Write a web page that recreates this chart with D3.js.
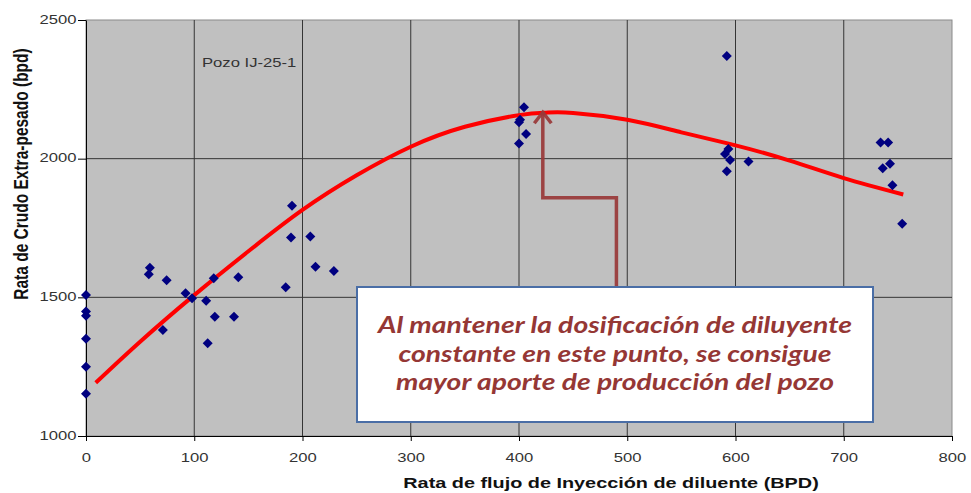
<!DOCTYPE html>
<html>
<head>
<meta charset="utf-8">
<script src="https://cdn.jsdelivr.net/npm/d3@7"></script>
<style>
  body { margin: 0; background: #fff; }
  svg { display: block; font-family: Arial, "Liberation Sans", sans-serif; }
</style>
</head>
<body>
<svg id="chart" width="971" height="493"></svg>
<script>
// values
var xTicks = [0, 100, 200, 300, 400, 500, 600, 700, 800];
var yTicks = [1000, 1500, 2000, 2500];

var inyeccion = [0, 0, 0, 0, 0, 0, 58, 59, 74.5, 71, 92, 98, 111, 112.4, 119, 118, 136.7, 140.7,
  184.5, 212, 190.3, 189.4, 207.2, 229, 404.6, 401, 400, 406.5, 400,
  592, 593.4, 590.3, 595, 592, 612, 734, 741, 742.7, 736, 745, 754];
var crudo = [1508, 1449, 1434, 1351, 1250, 1152, 1583, 1607, 1562, 1382, 1515, 1497, 1488, 1334, 1430, 1569, 1430, 1572,
  1536, 1610, 1830, 1716, 1719, 1595, 2185, 2140, 2131, 2089, 2055,
  2370, 2035, 2017, 1995, 1955, 1990, 2058, 2058, 1982, 1965, 1904, 1765];

// trend line (polynomial fit in the original)
var trendX = [9, 50, 100, 150, 200, 250, 300, 350, 400, 425, 450, 500, 550, 600, 650, 700, 755];
var trendY = [1192, 1340, 1508, 1666, 1815, 1940, 2043, 2115, 2157, 2166, 2165, 2140, 2095, 2048, 1993, 1930, 1871];

var pozoLabel = "Pozo IJ-25-1";
var noteLines = [
  "Al mantener la dosificación de diluyente",
  "constante en este punto, se consigue",
  "mayor aporte de producción del pozo"
];
// annotation arrow, in data units
var arrowX = [422, 422, 490, 490];
var arrowY = [2169, 1859, 1859, 1537];

var margin = {top: 20, left: 86},
    width = 866, height = 416;
var stretch = 1.28; // the original chart text is widened

var svg = d3.select('#chart');
var g = svg.append('g').attr('transform', 'translate(' + margin.left + ',' + margin.top + ')');

var x = d3.scaleLinear().domain([0, 800]).range([0, width]);
var y = d3.scaleLinear().domain([1000, 2500]).range([height, 0]);

// plot area
g.append('rect')
  .attr('width', width).attr('height', height)
  .attr('fill', '#c0c0c0')
  .attr('stroke', '#8a8a8a');

// grid
g.selectAll('.vgrid').data(xTicks.slice(1, -1)).enter().append('line')
  .attr('x1', d => x(d)).attr('x2', d => x(d))
  .attr('y1', 0).attr('y2', height)
  .attr('stroke', '#353535').attr('stroke-width', 1);
g.selectAll('.hgrid').data(yTicks.slice(1, -1)).enter().append('line')
  .attr('x1', 0).attr('x2', width)
  .attr('y1', d => y(d)).attr('y2', d => y(d))
  .attr('stroke', '#353535').attr('stroke-width', 1);

// axes
var xAxis = g.append('g').attr('transform', 'translate(0,' + height + ')')
  .call(d3.axisBottom(x).tickValues(xTicks).tickFormat(d3.format('d')).tickSize(5).tickSizeOuter(0));
var yAxis = g.append('g')
  .call(d3.axisLeft(y).tickValues(yTicks).tickFormat(d3.format('d')).tickSize(8).tickSizeOuter(0).tickPadding(1));

[xAxis, yAxis].forEach(function(a) {
  a.select('.domain').attr('stroke', '#000');
  a.selectAll('.tick line').attr('stroke', '#000');
  a.selectAll('.tick text')
    .attr('fill', '#333')
    .style('font-size', '13px')
    .style('font-family', 'Arial, "Liberation Sans", sans-serif');
});
xAxis.selectAll('.tick text')
  .attr('y', 0).attr('dy', 26.5)
  .attr('transform', 'scale(' + stretch + ',1)')
  .attr('x', 0);
yAxis.selectAll('.tick text')
  .attr('x', -9.5 / stretch).attr('dy', '0.25em')
  .attr('transform', 'scale(' + stretch + ',1)');

// axis titles
svg.append('text')
  .attr('transform', 'translate(611,488) scale(' + stretch + ',1)')
  .attr('text-anchor', 'middle')
  .style('font-size', '15.5px').style('font-weight', 'bold')
  .attr('fill', '#111')
  .text('Rata de flujo de Inyección de diluente (BPD)');

svg.append('text')
  .attr('transform', 'translate(28,174) rotate(-90) scale(1,1.35)')
  .attr('text-anchor', 'middle')
  .style('font-size', '15.5px').style('font-weight', 'bold')
  .attr('fill', '#111')
  .text('Rata de Crudo Extra-pesado (bpd)');

// well label
svg.append('text')
  .attr('transform', 'translate(202,67) scale(' + stretch + ',1)')
  .style('font-size', '13px')
  .attr('fill', '#333')
  .text(pozoLabel);

// trend line
var line = d3.line().x(d => x(d[0])).y(d => y(d[1])).curve(d3.curveNatural);
g.append('path')
  .datum(d3.zip(trendX, trendY))
  .attr('d', line)
  .attr('fill', 'none')
  .attr('stroke', '#ff0000')
  .attr('stroke-width', 4);

// points
var diamond = d3.symbol().type(d3.symbolSquare).size(50);
g.selectAll('.pt').data(d3.zip(inyeccion, crudo)).enter().append('path')
  .attr('d', diamond)
  .attr('transform', d => 'translate(' + x(d[0]) + ',' + y(d[1]) + ') rotate(45)')
  .attr('fill', '#000080');

// annotation arrow
var arrowColor = '#993838';
var arrowPts = d3.zip(arrowX, arrowY);
g.append('path')
  .datum(arrowPts)
  .attr('d', d3.line().x(d => x(d[0])).y(d => y(d[1])))
  .attr('fill', 'none')
  .attr('stroke', arrowColor)
  .attr('stroke-width', 3.5)
  .attr('opacity', 0.92);
var tipX = x(arrowX[0]), tipY = y(arrowY[0]);
g.append('path')
  .attr('d', 'M' + (tipX - 8.5) + ',' + (tipY + 11.5) + 'L' + tipX + ',' + (tipY + 0.5) + 'L' + (tipX + 8.5) + ',' + (tipY + 11.5))
  .attr('fill', 'none')
  .attr('stroke', arrowColor)
  .attr('stroke-width', 3.5)
  .attr('opacity', 0.92);

// note box
var box = svg.append('g');
box.append('rect')
  .attr('x', 357).attr('y', 287).attr('width', 516).attr('height', 135)
  .attr('fill', '#fff')
  .attr('stroke', '#4a6ea6').attr('stroke-width', 2);
var lineWidths = [474, 433, 438];
box.selectAll('.note').data(noteLines).enter().append('text')
  .attr('x', 615)
  .attr('y', (d, i) => 333 + i * 28.5)
  .attr('text-anchor', 'middle')
  .attr('textLength', (d, i) => lineWidths[i])
  .attr('lengthAdjust', 'spacingAndGlyphs')
  .style('font-family', 'Lato, "Open Sans", sans-serif')
  .style('font-style', 'italic').style('font-weight', 'bold')
  .style('font-size', '23px')
  .attr('fill', '#953735')
  .text(d => d);
</script>
</body>
</html>
